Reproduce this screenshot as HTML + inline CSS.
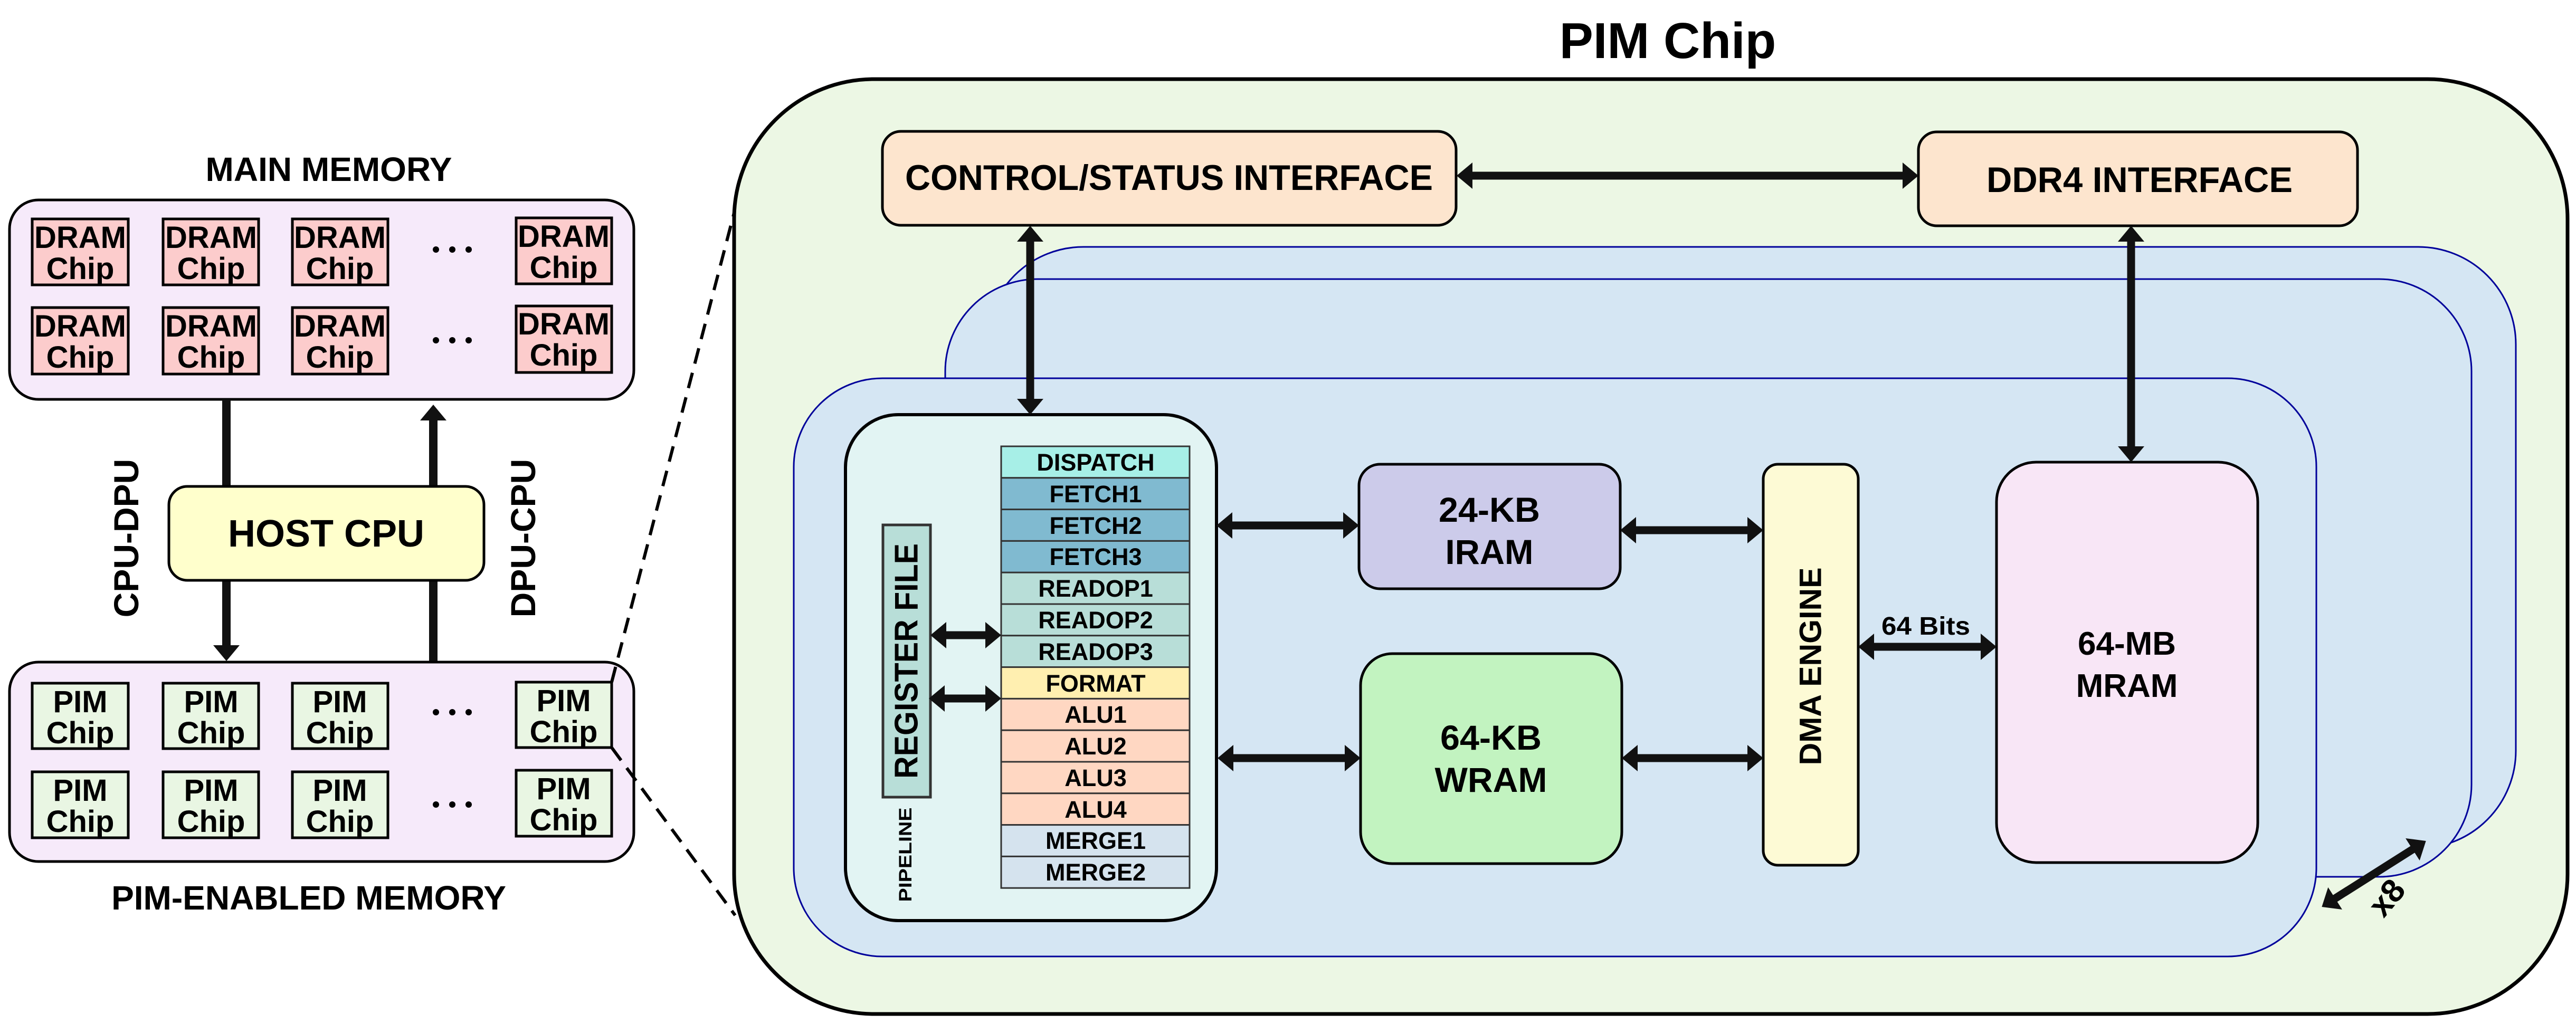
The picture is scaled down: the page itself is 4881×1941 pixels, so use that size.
<!DOCTYPE html>
<html><head><meta charset="utf-8"><style>
html,body{margin:0;padding:0;background:#fff;}
svg{display:block;}
text{font-family:"Liberation Sans",Arial,sans-serif;font-weight:bold;fill:#000;}
</style></head><body>
<svg width="4881" height="1941" viewBox="0 0 4881 1941" xmlns="http://www.w3.org/2000/svg">
<defs>
<marker id="ah" viewBox="0 0 30 50" refX="2" refY="25" markerWidth="30" markerHeight="50" markerUnits="userSpaceOnUse" orient="auto-start-reverse">
<path d="M0,0 L30,25 L0,50 z" fill="#111"/>
</marker>
</defs>

<!-- LEFT SIDE -->
<text x="623" y="343" font-size="64" text-anchor="middle">MAIN MEMORY</text>
<rect x="18" y="379" width="1183" height="378" rx="55" fill="#f6eafa" stroke="#000" stroke-width="5"/>
<g fill="#fccccc" stroke="#000" stroke-width="5">
<rect x="61" y="415" width="182" height="125"/><rect x="309" y="415" width="181" height="125"/><rect x="554" y="415" width="181" height="125"/><rect x="978" y="413" width="181" height="125"/>
<rect x="61" y="583" width="182" height="126"/><rect x="309" y="583" width="181" height="126"/><rect x="554" y="583" width="181" height="126"/><rect x="978" y="580" width="181" height="126"/>
</g>
<g font-size="58" text-anchor="middle">
<text x="152" y="470">DRAM</text><text x="152" y="529">Chip</text>
<text x="400" y="470">DRAM</text><text x="400" y="529">Chip</text>
<text x="644" y="470">DRAM</text><text x="644" y="529">Chip</text>
<text x="1068" y="468">DRAM</text><text x="1068" y="527">Chip</text>
<text x="152" y="638">DRAM</text><text x="152" y="697">Chip</text>
<text x="400" y="638">DRAM</text><text x="400" y="697">Chip</text>
<text x="644" y="638">DRAM</text><text x="644" y="697">Chip</text>
<text x="1068" y="634">DRAM</text><text x="1068" y="693">Chip</text>
</g>

<g stroke="#111" stroke-width="16" fill="none">
<line x1="429" y1="757" x2="429" y2="922"/>
<line x1="429" y1="1100" x2="429" y2="1225" marker-end="url(#ah)"/>
<line x1="821" y1="1255" x2="821" y2="1100"/>
<line x1="821" y1="922" x2="821" y2="795" marker-end="url(#ah)"/>
</g>
<rect x="320" y="922" width="597" height="178" rx="35" fill="#ffffcc" stroke="#000" stroke-width="5"/>
<text x="618" y="1036" font-size="72" text-anchor="middle">HOST CPU</text>
<text transform="translate(239,1020) rotate(-90)" font-size="66" text-anchor="middle" dominant-baseline="central">CPU-DPU</text>
<text transform="translate(991,1020) rotate(-90)" font-size="66" text-anchor="middle" dominant-baseline="central">DPU-CPU</text>

<rect x="18" y="1255" width="1183" height="378" rx="55" fill="#f6eafa" stroke="#000" stroke-width="5"/>
<g fill="#e9f6e3" stroke="#000" stroke-width="5">
<rect x="61" y="1295" width="182" height="124"/><rect x="309" y="1295" width="181" height="124"/><rect x="554" y="1295" width="181" height="124"/><rect x="978" y="1293" width="181" height="124"/>
<rect x="61" y="1463" width="182" height="125"/><rect x="309" y="1463" width="181" height="125"/><rect x="554" y="1463" width="181" height="125"/><rect x="978" y="1460" width="181" height="125"/>
</g>
<g font-size="58" text-anchor="middle">
<text x="152" y="1350">PIM</text><text x="152" y="1409">Chip</text>
<text x="400" y="1350">PIM</text><text x="400" y="1409">Chip</text>
<text x="644" y="1350">PIM</text><text x="644" y="1409">Chip</text>
<text x="1068" y="1348">PIM</text><text x="1068" y="1407">Chip</text>
<text x="152" y="1518">PIM</text><text x="152" y="1577">Chip</text>
<text x="400" y="1518">PIM</text><text x="400" y="1577">Chip</text>
<text x="644" y="1518">PIM</text><text x="644" y="1577">Chip</text>
<text x="1068" y="1515">PIM</text><text x="1068" y="1574">Chip</text>
</g>
<g fill="#000">
<circle cx="826" cy="473" r="6"/><circle cx="857" cy="473" r="6"/><circle cx="888" cy="473" r="6"/>
<circle cx="826" cy="645" r="6"/><circle cx="857" cy="645" r="6"/><circle cx="888" cy="645" r="6"/>
<circle cx="826" cy="1350" r="6"/><circle cx="857" cy="1350" r="6"/><circle cx="888" cy="1350" r="6"/>
<circle cx="826" cy="1525" r="6"/><circle cx="857" cy="1525" r="6"/><circle cx="888" cy="1525" r="6"/>
</g>
<text x="585" y="1724" font-size="64" text-anchor="middle">PIM-ENABLED MEMORY</text>

<!-- dashed zoom lines -->
<g stroke="#000" stroke-width="6" stroke-dasharray="30 18" fill="none">
<line x1="1159" y1="1293" x2="1418" y2="300"/>
<line x1="1159" y1="1417" x2="1393" y2="1735"/>
</g>

<!-- PIM CHIP -->
<text x="3160" y="110" font-size="96" text-anchor="middle">PIM Chip</text>
<rect x="1391" y="150" width="3474" height="1772" rx="265" fill="#ecf7e4" stroke="#000" stroke-width="7"/>

<rect x="1672" y="249" width="1087" height="178" rx="35" fill="#fde5ce" stroke="#000" stroke-width="5"/>
<text x="2215" y="360" font-size="68" text-anchor="middle" textLength="1000" lengthAdjust="spacingAndGlyphs">CONTROL/STATUS INTERFACE</text>
<rect x="3635" y="250" width="832" height="178" rx="35" fill="#fde5ce" stroke="#000" stroke-width="5"/>
<text x="4054" y="364" font-size="68" text-anchor="middle" textLength="580" lengthAdjust="spacingAndGlyphs">DDR4 INTERFACE</text>

<!-- layers -->
<rect x="1868" y="468" width="2899" height="1140" rx="185" fill="#d5e6f3" stroke="#00009a" stroke-width="3"/>
<rect x="1791" y="529" width="2892" height="1133" rx="175" fill="#d5e6f3" stroke="#00009a" stroke-width="3"/>
<rect x="1504" y="717" width="2885" height="1096" rx="168" fill="#d5e6f3" stroke="#00009a" stroke-width="3"/>

<!-- pipeline -->
<rect x="1602" y="786" width="703" height="959" rx="100" fill="#e2f4f3" stroke="#000" stroke-width="6"/>
<g stroke="#333" stroke-width="3">
<rect x="1897" y="846" width="357" height="59.8" fill="#a7efe7"/>
<rect x="1897" y="905.8" width="357" height="59.8" fill="#80bad0"/>
<rect x="1897" y="965.6" width="357" height="59.8" fill="#80bad0"/>
<rect x="1897" y="1025.4" width="357" height="59.8" fill="#80bad0"/>
<rect x="1897" y="1085.2" width="357" height="59.8" fill="#b8ded8"/>
<rect x="1897" y="1145" width="357" height="59.8" fill="#b8ded8"/>
<rect x="1897" y="1204.8" width="357" height="59.8" fill="#b8ded8"/>
<rect x="1897" y="1264.6" width="357" height="59.8" fill="#ffefb0"/>
<rect x="1897" y="1324.4" width="357" height="59.8" fill="#ffd7c2"/>
<rect x="1897" y="1384.2" width="357" height="59.8" fill="#ffd7c2"/>
<rect x="1897" y="1444" width="357" height="59.8" fill="#ffd7c2"/>
<rect x="1897" y="1503.8" width="357" height="59.8" fill="#ffd7c2"/>
<rect x="1897" y="1563.6" width="357" height="59.8" fill="#d5e3ee"/>
<rect x="1897" y="1623.4" width="357" height="59.8" fill="#d5e3ee"/>
</g>
<g font-size="45" text-anchor="middle">
<text x="2076" y="892">DISPATCH</text>
<text x="2076" y="952">FETCH1</text>
<text x="2076" y="1012">FETCH2</text>
<text x="2076" y="1071">FETCH3</text>
<text x="2076" y="1131">READOP1</text>
<text x="2076" y="1191">READOP2</text>
<text x="2076" y="1251">READOP3</text>
<text x="2076" y="1311">FORMAT</text>
<text x="2076" y="1370">ALU1</text>
<text x="2076" y="1430">ALU2</text>
<text x="2076" y="1490">ALU3</text>
<text x="2076" y="1550">ALU4</text>
<text x="2076" y="1609">MERGE1</text>
<text x="2076" y="1669">MERGE2</text>
</g>
<rect x="1673" y="995" width="90" height="516" fill="#b8ded8" stroke="#333" stroke-width="5"/>
<text transform="translate(1718,1253) rotate(-90)" font-size="62" text-anchor="middle" dominant-baseline="central" textLength="446" lengthAdjust="spacingAndGlyphs">REGISTER FILE</text>
<text transform="translate(1716,1620) rotate(-90)" font-size="34" text-anchor="middle" dominant-baseline="central" textLength="179" lengthAdjust="spacingAndGlyphs">PIPELINE</text>

<!-- memory blocks -->
<rect x="2575" y="880" width="495" height="236" rx="40" fill="#cccbea" stroke="#000" stroke-width="5"/>
<text x="2822" y="989" font-size="66" text-anchor="middle" textLength="192" lengthAdjust="spacingAndGlyphs">24-KB</text>
<text x="2822" y="1069" font-size="66" text-anchor="middle" textLength="167" lengthAdjust="spacingAndGlyphs">IRAM</text>
<rect x="2578" y="1239" width="495" height="398" rx="60" fill="#c2f3c0" stroke="#000" stroke-width="5"/>
<text x="2825" y="1421" font-size="66" text-anchor="middle" textLength="192" lengthAdjust="spacingAndGlyphs">64-KB</text>
<text x="2825" y="1501" font-size="66" text-anchor="middle" textLength="213" lengthAdjust="spacingAndGlyphs">WRAM</text>
<rect x="3341" y="880" width="180" height="760" rx="28" fill="#fdfad5" stroke="#000" stroke-width="5"/>
<text transform="translate(3431,1263) rotate(-90)" font-size="58" text-anchor="middle" dominant-baseline="central" textLength="375" lengthAdjust="spacingAndGlyphs">DMA ENGINE</text>
<rect x="3783" y="876" width="495" height="759" rx="75" fill="#f8e6f6" stroke="#000" stroke-width="5"/>
<text x="4030" y="1241" font-size="62" text-anchor="middle">64-MB</text>
<text x="4030" y="1321" font-size="62" text-anchor="middle">MRAM</text>
<text x="3649" y="1203" font-size="48" text-anchor="middle" textLength="168" lengthAdjust="spacingAndGlyphs">64 Bits</text>

<!-- connectors -->
<g stroke="#111" stroke-width="15" fill="none" marker-start="url(#ah)" marker-end="url(#ah)">
<line x1="1952" y1="456" x2="1952" y2="758"/>
<line x1="2788" y1="333" x2="3607" y2="333"/>
<line x1="4038" y1="456" x2="4038" y2="848"/>
<line x1="2333" y1="996" x2="2547" y2="996"/>
<line x1="2335" y1="1437" x2="2550" y2="1437"/>
<line x1="3098" y1="1005" x2="3313" y2="1005"/>
<line x1="3101" y1="1437" x2="3313" y2="1437"/>
<line x1="3549" y1="1226" x2="3755" y2="1226"/>
<line x1="1791" y1="1204" x2="1869" y2="1204"/>
<line x1="1788" y1="1324" x2="1869" y2="1324"/>
<line x1="4423" y1="1704" x2="4573" y2="1609"/>
</g>
<text transform="translate(4523,1702) rotate(-50)" font-size="62" text-anchor="middle" dominant-baseline="central">x8</text>
</svg>
</body></html>
